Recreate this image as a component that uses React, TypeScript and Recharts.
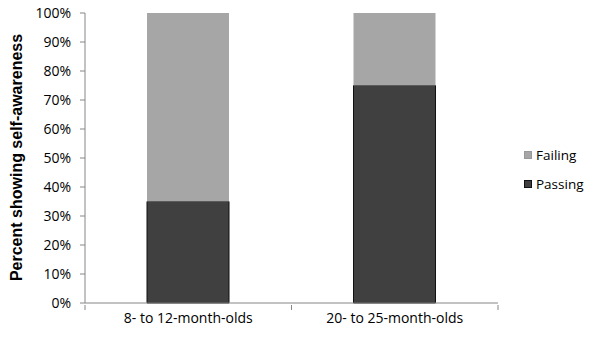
import { BarChart, Bar, XAxis, YAxis, Legend } from 'recharts';

const categories = ['8- to 12-month-olds', '20- to 25-month-olds'];
const passing = [35, 75];
const failing = [65, 25];
const yTicks = [0, 10, 20, 30, 40, 50, 60, 70, 80, 90, 100];

const data = categories.map((group, i) => ({ group, passing: passing[i], failing: failing[i] }));

const font = '"Open Sans", "Liberation Sans", sans-serif';

const legendItems = [
  { name: 'Failing', color: '#a6a6a6' },
  { name: 'Passing', color: '#404040' },
];

function LegendBox() {
  return (
    <div style={{ fontFamily: font, fontSize: 13.5, color: '#000' }}>
      {legendItems.map((item) => (
        <div key={item.name} style={{ display: 'flex', alignItems: 'center', height: 29 }}>
          <span
            style={{
              display: 'inline-block',
              width: 8,
              height: 8,
              background: item.color,
              border: item.name === 'Passing' ? '1px solid #111' : '1px solid #999',
              boxSizing: 'border-box',
              marginRight: 4,
            }}
          />
          {item.name}
        </div>
      ))}
    </div>
  );
}

// Excel style: tick marks sit between categories, not under them
function CategoryTick(props: any) {
  const { x, y, payload } = props;
  const half = payload && payload.offset ? payload.offset : 103;
  return (
    <g>
      <line x1={x - half} y1={y - 4} x2={x - half} y2={y + 1} stroke="#868686" />
      <line x1={x + half} y1={y - 4} x2={x + half} y2={y + 1} stroke="#868686" />
      <text x={x} y={y + 14} textAnchor="middle" style={{ fontFamily: font, fontSize: 14, fill: '#000' }}>
        {payload.value}
      </text>
    </g>
  );
}

export default function App() {
  return (
    <div style={{ position: 'absolute', left: 0, top: 0, background: '#fff' }}>
      <BarChart width={600} height={344} data={data} margin={{ top: 13, right: 102, bottom: 11, left: 0 }} barSize={82}>
        <XAxis
          dataKey="group"
          axisLine={{ stroke: '#868686' }}
          tickLine={false}
          tickSize={4}
          height={30}
          tick={<CategoryTick />}
          interval={0}
        />
        <YAxis
          width={85}
          domain={[0, 100]}
          ticks={yTicks}
          tickFormatter={(v) => `${v}%`}
          axisLine={{ stroke: '#868686' }}
          tickLine={{ stroke: '#868686' }}
          tickSize={5}
          tickMargin={9}
          tick={{ fill: '#000', fontSize: 14, fontFamily: font }}
          label={{
            content: () => (
              <text
                x={22}
                y={157.5}
                transform="rotate(-90, 22, 157.5)"
                textAnchor="middle"
                style={{ fontFamily: '"Liberation Sans", Arial, sans-serif', fontSize: 16, fontWeight: 'bold', fill: '#000' }}
              >
                Percent showing self-awareness
              </text>
            ),
          }}
        />
        <Legend
          layout="horizontal"
          align="center"
          verticalAlign="middle"
          content={<LegendBox />}
          wrapperStyle={{ left: 524, top: 140, width: 80, height: 60 }}
        />
        <Bar dataKey="passing" name="Passing" stackId="a" fill="#404040" stroke="#111" strokeWidth={1} isAnimationActive={false} />
        <Bar dataKey="failing" name="Failing" stackId="a" fill="#a6a6a6" isAnimationActive={false} />
      </BarChart>
    </div>
  );
}
